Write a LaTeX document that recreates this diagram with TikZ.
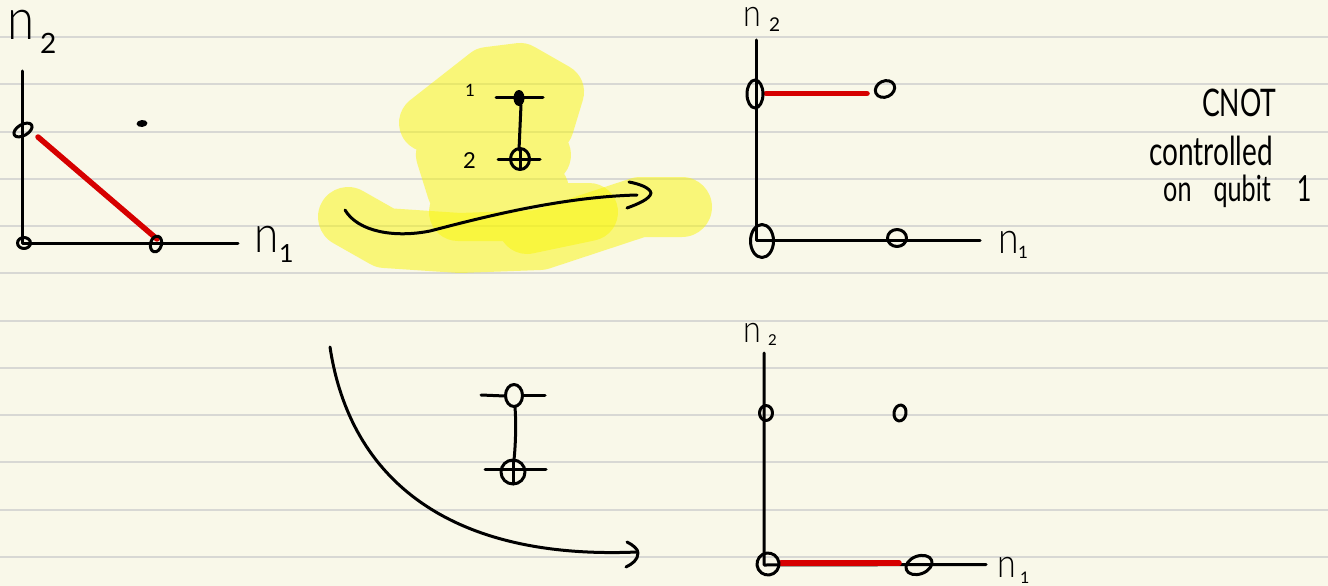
\documentclass[tikz,border=0pt]{standalone}
\usepackage{fontspec}
\newfontfamily\hand[FakeStretch=0.85]{Lato Light}
\newfontfamily\handnote[FakeStretch=0.7]{Lato}
\newfontfamily\handdigit{Lato}
\definecolor{paper}{RGB}{249,248,233}
\definecolor{rule}{RGB}{216,216,212}
\definecolor{marker}{RGB}{249,246,8}
\definecolor{redline}{RGB}{214,0,0}
\tikzset{
    pen/.style={line width=3pt, line cap=round, line join=round},
    redbar/.style={line width=5.5pt, line cap=round, redline},
    glow/.style={line width=#1, line cap=round, line join=round, marker, opacity=0.5},
    hw/.style={anchor=base west, inner sep=0pt, font=\hand\fontsize{#1}{#1}\selectfont},
    hwdigit/.style={anchor=base west, inner sep=0pt, font=\handdigit\fontsize{#1}{#1}\selectfont},
    hwnote/.style={anchor=base west, inner sep=0pt, font=\handnote\fontsize{#1}{#1}\selectfont}
}
\begin{document}
\begin{tikzpicture}[x=1pt,y=-1pt]
    \useasboundingbox (0,0) rectangle (1328,586);
    \fill[paper] (0,0) rectangle (1328,586);
    % ruled paper
    \foreach \ypos in {37,84,132,179,226,273,321,368,415,462,510,557}
        \draw[rule,line width=1.6pt] (0,\ypos) -- (1328,\ypos);

    % highlighter
    \draw[glow=58pt] (428,123) -- (488,76) -- (520,72) -- (555,92) -- (545,125) -- (440,125)
        -- (542,155) -- (445,155) -- (456,190) -- (540,190) -- (458,212) -- (589,212) -- (527,225);
    \draw[glow=60pt] (348,217) -- (385,238) -- (460,243) -- (540,240) -- (640,207) -- (682,207);

    % top left plot
    \draw[pen] (22.5,71) -- (22.5,243) -- (238,243);
    \draw[redbar] (38,137) -- (157,239);
    \draw[pen,rotate around={30:(23,130)}] (23,130) ellipse (10 and 5.5);
    \draw[pen] (24,243) ellipse (6.5 and 5.5);
    \draw[pen,rotate around={-15:(156,244)}] (156,244) ellipse (5.5 and 8);
    \fill[rotate around={5:(142,123.5)}] (142,123.5) ellipse (5.5 and 3.5);
    \node[hw=58] (nbTL) at (7,40) {n};
    \node[hwdigit=28] (subbTL) at (40,54) {2};
    \node[hw=52] (naTL) at (254,252) {n};
    \node[hwdigit=25] (subaTL) at (279,262) {1};

    % cnot on the highlighter
    \node[hwdigit=17] (qa) at (465,96) {1};
    \node[hwdigit=22] (qb) at (463,168) {2};
    \draw[pen] (496,97) -- (543,97);
    \fill (519,98) ellipse (5.5 and 8);
    \draw[pen] (521,105) -- (519,150);
    \draw[pen] (498,159) -- (540,159);
    \draw[pen] (520,159) ellipse (9.5 and 10.5);
    \draw[pen] (520,150) -- (520,169);
    \draw[pen] (345,210) .. controls (358,232) and (395,238) .. (430,231) .. controls (480,218) and (560,197) .. (637,195);
    \draw[pen] (629,182) .. controls (640,184) and (650,188) .. (651,193) .. controls (650,199) and (638,204) .. (627,208);

    % top right plot
    \draw[pen] (756.5,40) -- (756.5,240) -- (980,240);
    \draw[redbar] (766,93.5) -- (867,93.5);
    \draw[pen] (755,94) ellipse (8 and 14);
    \draw[pen,rotate around={25:(885,89)}] (885,89) ellipse (10 and 8);
    \draw[pen] (762,241) ellipse (11.5 and 16.5);
    \draw[pen] (897,238) ellipse (9.5 and 8.5);
    \node[hw=38] (nbTR) at (743,27) {n};
    \node[hwdigit=19] (subbTR) at (769,32) {2};
    \node[hw=44] (naTR) at (998,253) {n};
    \node[hwdigit=17] (subaTR) at (1018,258) {1};

    % note
    \node[hwnote=38] (notea) at (1202,116) {CNOT};
    \node[hwnote=40] (noteb) at (1149,165) {controlled};
    \node[hwnote=36] (notec) at (1163,201) {on\hspace{22pt}qubit\hspace{26pt}1};

    % bottom circuit and arrow
    \draw[pen] (481,395) -- (505,396);
    \draw[pen] (524,395) -- (545,395);
    \draw[pen] (514,395.5) ellipse (8.5 and 11);
    \draw[pen] (515,407) .. controls (516,420) and (516,440) .. (514,460);
    \draw[pen] (485,469.5) -- (546,469.5);
    \draw[pen] (513,472) ellipse (12 and 12);
    \draw[pen] (513,460) -- (513,484);
    \draw[pen] (330,347) .. controls (350,480) and (450,560) .. (637,552);
    \draw[pen] (627,542) .. controls (633,545) and (638,549) .. (638,553) .. controls (638,560) and (632,564) .. (626,567);

    % bottom right plot
    \draw[pen] (764,353) -- (764,565) -- (986,564.5);
    \draw[redbar] (781,563) -- (899,563);
    \draw[pen] (766,413) ellipse (6.5 and 7.5);
    \draw[pen,rotate around={-10:(900,413)}] (900,413) ellipse (6 and 8);
    \draw[pen,rotate around={30:(768,564)}] (768,564) ellipse (11 and 11);
    \draw[pen,rotate around={20:(919,565)}] (919,565) ellipse (13.5 and 9);
    \node[hw=38] (nbBR) at (743,342) {n};
    \node[hwdigit=15] (subbBR) at (768,345) {2};
    \node[hw=40] (naBR) at (997,577) {n};
    \node[hwdigit=16] (subaBR) at (1020,583) {1};
\end{tikzpicture}
\end{document}
